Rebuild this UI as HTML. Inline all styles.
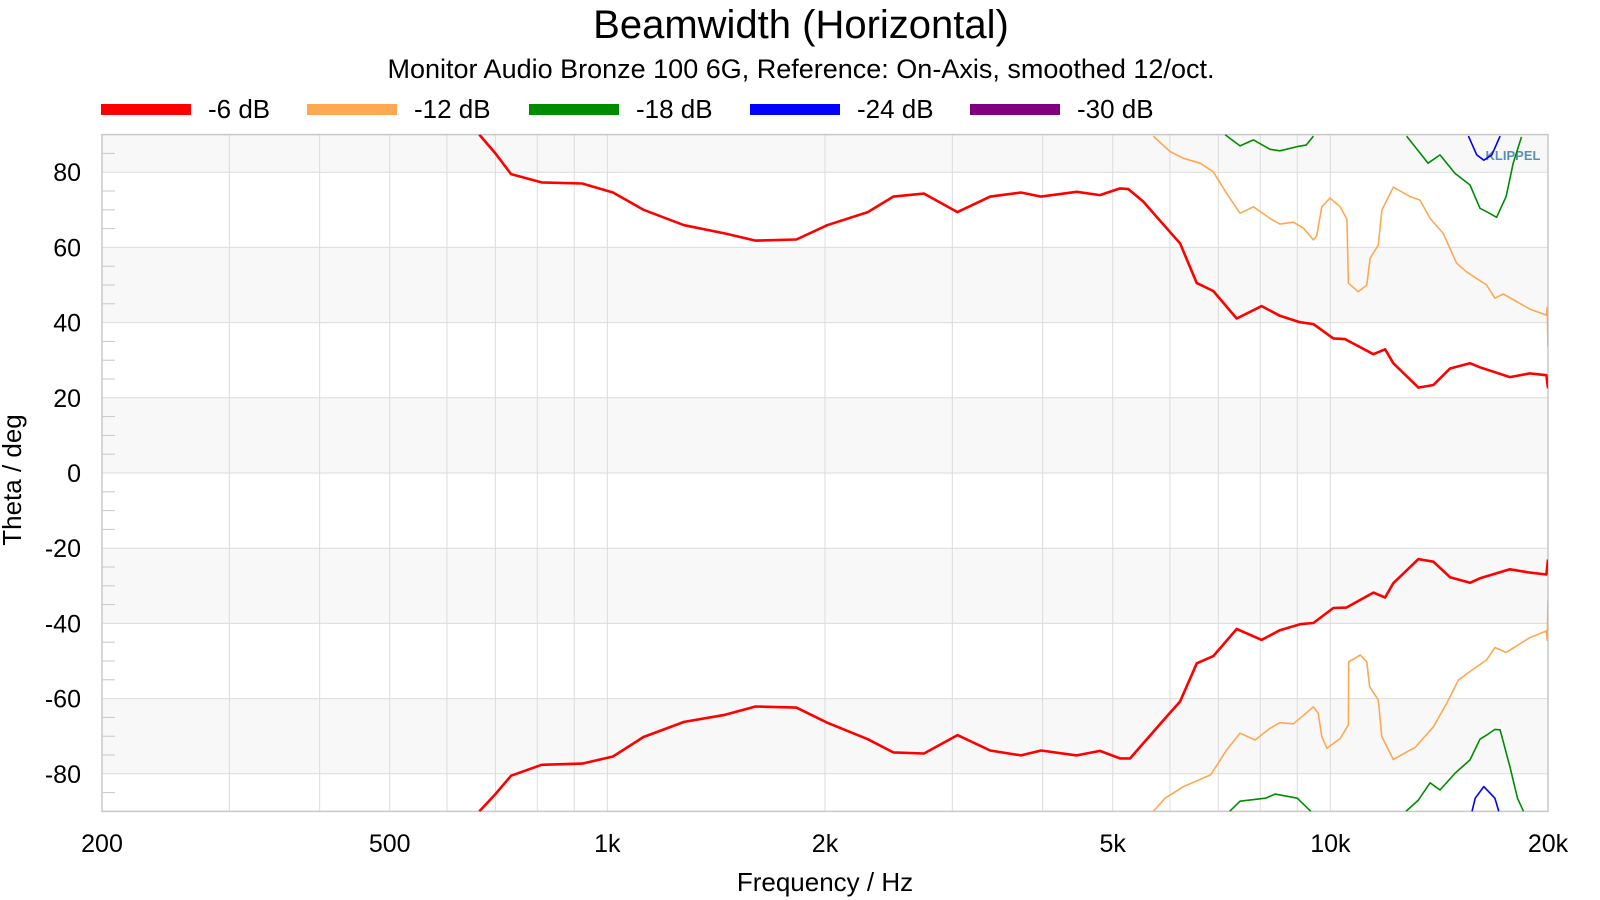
<!DOCTYPE html>
<html><head><meta charset="utf-8"><style>
html,body{margin:0;padding:0;background:#fff;}
svg{display:block;font-family:"Liberation Sans",Arial,sans-serif;}
</style></head><body>
<svg id="chart" width="1600" height="900" viewBox="0 0 1600 900">
<text x="801" y="38" font-size="40" text-anchor="middle" fill="#000">Beamwidth (Horizontal)</text>
<text x="801" y="78" font-size="27" text-anchor="middle" fill="#000">Monitor Audio Bronze 100 6G, Reference: On-Axis, smoothed 12/oct.</text>
<g id="legend"></g>
<g id="plot"></g>
<text x="825" y="891" font-size="26" text-anchor="middle">Frequency / Hz</text>
<text transform="translate(21,480) rotate(-90)" font-size="26" text-anchor="middle">Theta / deg</text>
</svg>
<script>
const xTickVals=[200,500,1000,2000,5000,10000,20000];
const xTickLabels=["200","500","1k","2k","5k","10k","20k"];
const yTickVals=[80,60,40,20,0,-20,-40,-60,-80];
const seriesNames=["-6 dB","-12 dB","-18 dB","-24 dB","-30 dB"];
const seriesColors=["#ff0000","#ffa852","#008c00","#0000ff","#800080"];

const redUpF=[665,700,736,811,923,1018,1122,1277,1455,1603,1826,2014,2292,2486,2741,3050,3385,3732,3981,4458,4800,5118,5257,5510,5937,6194,6535,6889,7420,8036,8516,9078,9475,10093,10477,11468,11904,12220,13237,13883,14640,15600,16107,17714,18880,19900,20000];
const redUpD=[90,85,79.5,77.3,77,74.6,70,65.9,63.7,61.8,62.1,65.9,69.4,73.5,74.3,69.4,73.5,74.6,73.5,74.8,73.9,75.7,75.5,72.2,65.1,61.1,50.5,48.4,41.1,44.4,41.8,40.1,39.6,35.8,35.6,31.6,32.9,29.2,22.7,23.4,27.8,29.2,28.1,25.5,26.5,26,22.5];
const redLoF=[665,700,736,811,923,1018,1122,1277,1455,1603,1826,2014,2292,2486,2741,3050,3385,3732,3981,4458,4800,5118,5285,5937,6194,6535,6889,7420,8036,8516,9078,9475,10093,10520,11468,11904,12220,13237,13883,14640,15600,16107,17714,18880,19900,20000];
const redLoD=[-90,-85.4,-80.5,-77.6,-77.3,-75.4,-70.2,-66.2,-64.3,-62.1,-62.4,-66.4,-70.8,-74.3,-74.6,-69.7,-73.8,-75.1,-73.8,-75.1,-73.9,-75.9,-75.9,-64.8,-60.8,-50.6,-48.7,-41.5,-44.4,-41.8,-40.2,-39.9,-35.9,-35.8,-31.8,-33.1,-29.3,-22.9,-23.6,-27.7,-29.2,-28,-25.6,-26.5,-27,-23];
const orUpF=[5690,6000,6262,6606,6889,7186,7500,7828,8250,8516,8890,9180,9475,9570,9730,9990,10320,10540,10590,10930,11230,11350,11650,11780,12220,12890,13300,13740,14330,14950,15430,16450,16890,17340,18880,19900,19950,20000];
const orUpD=[89.6,85.5,83.7,82.4,80.1,74.4,69.1,70.8,67.7,66.2,66.7,65.1,62,63,70.8,73.1,70.8,67.5,50.5,48.2,50,57.1,60.6,69.9,76,73.5,72.6,67.7,63.7,55.8,53.5,50,46.5,47.6,43.6,42,44,33.4];
const orLoF=[5690,5907,6262,6830,7186,7500,7870,8250,8516,8890,9475,9620,9730,9890,10320,10590,10600,11000,11230,11330,11650,11780,12220,12890,13100,13883,14480,15030,15600,16450,16890,17500,18880,19900,19950,20000];
const orLoD=[-90,-86.5,-83.4,-80.3,-73.7,-69.2,-71,-67.9,-66.4,-66.7,-62.2,-63.9,-70.1,-73.2,-70.6,-67,-50.2,-48.4,-50.2,-56.8,-60.4,-70.1,-76.2,-73.7,-73,-67.5,-61.3,-55.1,-52.8,-49.7,-46.4,-47.7,-43.8,-42,-44.5,-34];
const grUp1F=[7150,7500,7828,8250,8516,9000,9260,9475];
const grUp1D=[90,87,88.6,86.1,85.7,86.8,87.2,89.6];
const grUp2F=[12750,13650,14180,14870,15600,16107,16450,16980,17500,17900,18380];
const grUp2D=[89.6,82.4,84.6,79.7,76.6,70.4,69.5,68,73.5,82.4,89.4];
const grLo1F=[7255,7500,8130,8390,8516,9000,9400];
const grLo1D=[-90,-87.3,-86.5,-85.4,-85.6,-86.5,-90];
const grLo2F=[12720,13237,13740,14180,14870,15600,16107,16450,16890,17170,17714,18150,18500];
const grLo2D=[-90,-87,-82.4,-84.3,-79.9,-76.3,-70.8,-69.7,-68.2,-68.3,-78.1,-86.5,-90];
const blUpF=[15520,15940,16300,16720,17170];
const blUpD=[89.6,84.6,83.2,84.6,89.6];
const blLoF=[15700,15860,16300,16890,17100];
const blLoD=[-90,-86.5,-83.4,-86.5,-90];

const L=102,R=1548,T=134.6,B=811.4,FMIN=200,FMAX=20000,DMIN=-90,DMAX=90;
function xs(f){return L+(Math.log10(f)-Math.log10(FMIN))/(Math.log10(FMAX)-Math.log10(FMIN))*(R-L);}
function ys(d){return T+(DMAX-d)/(DMAX-DMIN)*(B-T);}
const NS="http://www.w3.org/2000/svg";
const plot=document.getElementById('plot');
const legend=document.getElementById('legend');
function mk(tag,attrs,parent){const e=document.createElementNS(NS,tag);for(const k in attrs)e.setAttribute(k,attrs[k]);parent.appendChild(e);return e;}

[[80,90],[40,60],[0,20],[-40,-20],[-80,-60]].forEach(b=>{
  const r=mk('rect',{x:L,y:ys(b[1]),width:R-L,height:ys(b[0])-ys(b[1]),fill:'#f8f8f8'},plot);
  
  
});
for(let dec=100;dec<=10000;dec*=10){for(let m=1;m<=9;m++){const f=dec*m;if(f<=FMIN||f>=FMAX)continue;
  const l=mk('line',{x1:xs(f),x2:xs(f),y1:T,y2:B,stroke:'#dcdcdc','stroke-width':1},plot);
  
  
}}
yTickVals.forEach(v=>{
  const l=mk('line',{x1:L,x2:R,y1:ys(v),y2:ys(v),stroke:'#dcdcdc','stroke-width':1},plot);
  
  
});
for(let d=-85;d<=85;d+=5){if(d%20===0)continue;
  const l=mk('line',{x1:L,x2:L+13,y1:ys(d),y2:ys(d),stroke:'#c8c8c8','stroke-width':1},plot);
  
  
}
const fr=mk('rect',{x:L,y:T,width:R-L,height:B-T,fill:'none',stroke:'#c8c8c8','stroke-width':1.5},plot);


xTickVals.forEach((v,i)=>{
  const t=mk('text',{x:xs(v),y:852,'font-size':25,'text-anchor':'middle'},plot);
  t.textContent=xTickLabels[i];
  
  
});
yTickVals.forEach(v=>{
  const t=mk('text',{x:81,y:ys(v)+9,'font-size':25,'text-anchor':'end'},plot);
  t.textContent=String(v);
  
  
});
const logo=mk('text',{x:1513,y:160,'font-size':13,'font-weight':'bold','text-anchor':'middle',fill:'#5a8fb5'},plot);
logo.textContent='KLIPPEL';



const clip=mk('clipPath',{id:'pc'},plot);
mk('rect',{x:L,y:T,width:R-L,height:B-T},clip);
function line(F,D,color,w,name){
  const p=F.map((f,i)=>xs(f).toFixed(1)+','+ys(D[i]).toFixed(1)).join(' ');
  const pl=mk('polyline',{points:p,fill:'none',stroke:color,'stroke-width':w,'stroke-linejoin':'round','clip-path':'url(#pc)'},plot);
  
  
}
line(orUpF,orUpD,seriesColors[1],1.6,'series-12db-upper');
line(orLoF,orLoD,seriesColors[1],1.6,'series-12db-lower');
line(grUp1F,grUp1D,seriesColors[2],1.6,'series-18db-upper-a');
line(grUp2F,grUp2D,seriesColors[2],1.6,'series-18db-upper-b');
line(grLo1F,grLo1D,seriesColors[2],1.6,'series-18db-lower-a');
line(grLo2F,grLo2D,seriesColors[2],1.6,'series-18db-lower-b');
line(blUpF,blUpD,seriesColors[3],1.6,'series-24db-upper');
line(blLoF,blLoD,seriesColors[3],1.6,'series-24db-lower');
line(redUpF,redUpD,seriesColors[0],2.6,'series-6db-upper');
line(redLoF,redLoD,seriesColors[0],2.6,'series-6db-lower');

const legX=[101,307,529,750,970];
seriesNames.forEach((n,i)=>{
  const r=mk('rect',{x:legX[i],y:104,width:90,height:11,fill:seriesColors[i]},legend);
  
  
  const t=mk('text',{x:legX[i]+107,y:118,'font-size':26},legend);
  t.textContent=n;
  
  
});
</script>
</body></html>
